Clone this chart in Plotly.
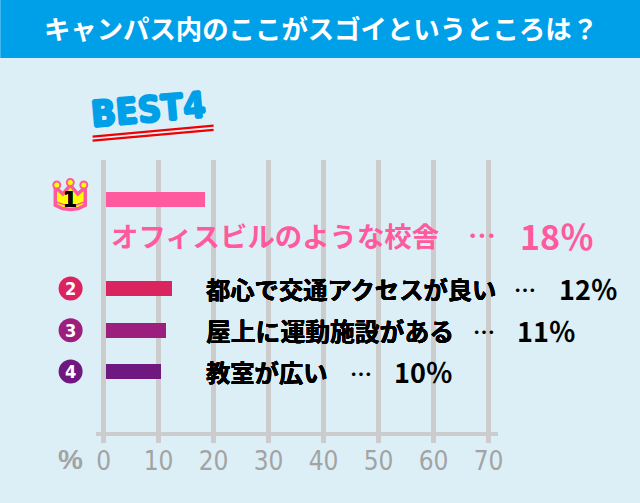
import plotly.graph_objects as go

W, H = 640, 503

# plot box in page pixels
L, R, T, B = 95.7, 497.7, 160.0, 442.7
PX = 5.5  # pixels per percent

ranks = ["1", "2", "3", "4"]
labels = ["オフィスビルのような校舎", "都心で交通アクセスが良い", "屋上に運動施設がある", "教室が広い"]
vals = [18, 12, 11, 10]
colors = ["#ff5a9d", "#d9245f", "#9c1f7e", "#6f1880"]
# row centres, measured from the top of the page
rows = [199, 288.3, 330, 371.3]

JP = "Noto Sans CJK JP"
COND = "DejaVu Sans Condensed"
SANS = "Liberation Sans"


# paper coordinates are relative to the plot box, not the page
def fx(px):
    return (px - L) / (R - L)


def fy(py):
    return (B - py) / (B - T)


def thick(col, d=0.5):
    return f"{d}px 0 {col}, -{d}px 0 {col}, 0 {d}px {col}, 0 -{d}px {col}"


fig = go.Figure()

# bars start a little right of the zero line in the original
fig.add_trace(go.Bar(
    x=vals, y=rows, base=0.36, orientation="h", width=15,
    marker=dict(color=colors, line=dict(width=0)), hoverinfo="skip", showlegend=False,
))

ann = []


def text(px, py, s, size, col, family=JP, anchor="left", weight="bold", angle=0, shadow=None):
    f = dict(family=family, size=size, color=col, weight=weight)
    if shadow:
        f["shadow"] = shadow
    ann.append(dict(xref="paper", yref="paper", x=fx(px), y=fy(py), text=s, showarrow=False,
                    xanchor=anchor, yanchor="middle", font=f, textangle=angle, borderpad=0))


def circle(cx, cy, r, fill, line):
    return dict(type="circle", xref="paper", yref="paper", x0=fx(cx - r), x1=fx(cx + r),
                y0=fy(cy + r), y1=fy(cy - r), fillcolor=fill, line=line, layer="above")


# row 1 is bigger and sits under its bar
text(110, 234.5, labels[0], 27.4, colors[0])
text(467, 235, "…", 28, colors[0])
text(519, 235, f"{vals[0]}％", 34, colors[0])

# rows 2-4: (label size, dots x, percent x)
pos = [(24.3, 513, 558), (24.8, 472, 516), (24.3, 349, 393)]
for i, (sz, b, c) in enumerate(pos, start=1):
    text(204.5, rows[i], labels[i], sz, "black", shadow=thick("black", 0.25))
    text(b, rows[i], "…", 22, "black")
    text(c, rows[i], f"{vals[i]}％", 27, "black")

text(70.5, 459, "%", 28, "#a3a3a3", family=SANS, anchor="center")

# BEST4 logo
text(148, 110, "BEST4", 36, "#00a0e9", family=COND, anchor="center", angle=-5, shadow=thick("#00a0e9", 1.2))

shapes = [
    # header band
    dict(type="rect", xref="paper", yref="paper", x0=fx(0), x1=fx(W), y0=fy(58), y1=fy(0),
         fillcolor="#00a0e9", line_width=0, layer="below"),
]
# red strokes under the logo
for x0, y0, x1, y1 in [(92.3, 136.7, 213.3, 125.7), (92.3, 140.7, 213.3, 130)]:
    shapes.append(dict(type="line", xref="paper", yref="paper", x0=fx(x0), y0=fy(y0), x1=fx(x1), y1=fy(y1),
                       line=dict(color="#f00000", width=2.3)))

# rank badges 2-4, the axis range would drop them as scatter points
for r, y, c in zip(ranks[1:], rows[1:], colors[1:]):
    shapes.append(circle(70.3, y, 12, c, dict(width=0)))
    text(70.3, y, r, 18, "white", family=COND, anchor="center")


def path(points, close=True):
    s = "M " + " L ".join(f"{fx(a):.5f},{fy(b):.5f}" for a, b in points)
    return s + " Z" if close else s


# crown: pink knobs first, then the body over them, then yellow knob centres
knobs = [(56.5, 185), (70, 182.5), (83.5, 185)]
for cx, cy in knobs:
    shapes.append(circle(cx, cy, 4.5, colors[0], dict(width=0)))
crown = [(55, 187), (62.5, 194), (70, 185), (77.5, 194), (85, 187), (85, 205), (78, 208.5), (70, 209.5), (62, 208.5), (55, 205)]
shapes.append(dict(type="path", xref="paper", yref="paper", path=path(crown),
                   fillcolor="#ffff00", line=dict(color=colors[0], width=3.5), layer="above"))
for cx, cy in knobs:
    shapes.append(circle(cx, cy, 2.5, "#ffff00", dict(width=0)))
shapes.append(dict(type="path", xref="paper", yref="paper",
                   path=path([(56, 202), (63, 204.5), (70, 205.5), (77, 204.5), (84, 202)], close=False),
                   line=dict(color=colors[0], width=1.5), layer="above"))
text(70, 199.5, "1", 22, "black", family=COND, anchor="center", shadow=thick("black", 0.3))

fig.update_layout(
    width=W, height=H, autosize=False,
    margin=dict(l=L, r=W - R, t=T, b=H - B, pad=0),
    paper_bgcolor="#dceff7", plot_bgcolor="rgba(0,0,0,0)",
    title=dict(text="キャンパス内のここがスゴイというところは？", x=321 / W, xanchor="center", y=1 - 30 / H, yanchor="middle",
               font=dict(family=JP, size=26.4, color="white", weight="bold")),
    xaxis=dict(range=[(L - 103.3) / PX, (R - 103.3) / PX], tickvals=list(range(0, 80, 10)),
               showgrid=True, gridcolor="#cccccc", gridwidth=4.5, zeroline=False, showline=False,
               ticks="", tickfont=dict(family=COND, size=26, color="#a3a3a3")),
    # the one y "gridline" is the horizontal axis bar
    yaxis=dict(range=[B, T], tickvals=[434], showticklabels=False, showgrid=True,
               gridcolor="#cccccc", gridwidth=4, zeroline=False, showline=False, ticks=""),
    annotations=ann, shapes=shapes, bargap=0,
)

fig.write_html("out.html", config={"displayModeBar": False},
               post_script="document.body.style.margin='0';")
